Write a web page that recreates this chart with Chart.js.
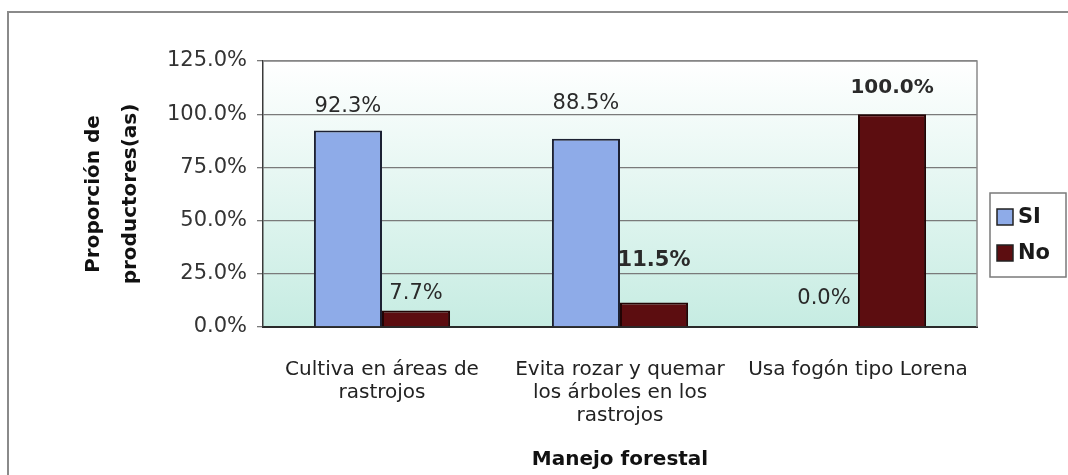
<!DOCTYPE html>
<html>
<head>
<meta charset="utf-8">
<script src="https://cdn.jsdelivr.net/npm/chart.js@4"></script>
<style>
    html, body { margin: 0; padding: 0; background: #fff; }
    .chart-box { width: 1068px; height: 475px; position: relative; }
</style>
</head>
<body>
<div class="chart-box">
    <canvas id="chart" width="1068" height="475"></canvas>
</div>
<script>
const categories = [
    ['Cultiva en áreas de', 'rastrojos'],
    ['Evita rozar y quemar', 'los árboles en los', 'rastrojos'],
    ['Usa fogón tipo Lorena']
];
const siValues = [92.3, 88.5, 0.0];
const noValues = [7.7, 11.5, 100.0];
const yTickMin = 0;
const yTickMax = 125;
const yTickStep = 25;

Chart.defaults.font.family = "'DejaVu Sans', sans-serif";
Chart.defaults.color = '#2a2a2a';

// gradient plot background + gray border like the excel plot area
const plotArea = {
    id: 'plotArea',
    beforeDraw(chart) {
        const { ctx, chartArea: a } = chart;
        ctx.save();
        const g = ctx.createLinearGradient(0, a.top, 0, a.bottom);
        g.addColorStop(0, '#ffffff');
        g.addColorStop(1, '#c6ece2');
        ctx.fillStyle = g;
        ctx.fillRect(a.left, a.top, a.right - a.left, a.bottom - a.top);
        ctx.restore();
    },
    beforeDatasetsDraw(chart) {
        const { ctx, chartArea: a } = chart;
        ctx.save();
        ctx.strokeStyle = '#8a8a8a';
        ctx.lineWidth = 1.5;
        ctx.beginPath();
        ctx.moveTo(a.left, a.top);
        ctx.lineTo(a.right, a.top);
        ctx.lineTo(a.right, a.bottom);
        ctx.stroke();
        ctx.restore();
    },
    afterDraw(chart) {
        // outer frame (top and left edges visible in the scan)
        const { ctx } = chart;
        ctx.save();
        ctx.strokeStyle = '#8a8a8a';
        ctx.lineWidth = 2;
        ctx.beginPath();
        ctx.moveTo(8, 480);
        ctx.lineTo(8, 12);
        ctx.lineTo(1068, 12);
        ctx.stroke();
        ctx.restore();
    }
};

const barLabels = {
    id: 'barLabels',
    afterDatasetsDraw(chart, args, opts) {
        const { ctx } = chart;
        ctx.save();
        ctx.textAlign = 'center';
        ctx.textBaseline = 'middle';
        ctx.fillStyle = '#2a2a2a';
        chart.data.datasets.forEach((ds, di) => {
            chart.getDatasetMeta(di).data.forEach((bar, i) => {
                const weight = opts.weights[di][i];
                ctx.font = weight + ' ' + opts.sizes[di][i] + "px 'DejaVu Sans'";
                ctx.fillText(ds.data[i].toFixed(1) + '%', bar.x, bar.y - opts.offsets[di][i]);
            });
        });
        ctx.restore();
    }
};

const boxLegend = {
    id: 'boxLegend',
    afterDraw(chart) {
        const { ctx } = chart;
        const left = 990, top = 193, w = 76, h = 84;
        ctx.save();
        ctx.fillStyle = '#ffffff';
        ctx.fillRect(left, top, w, h);
        ctx.strokeStyle = '#7a7a7a';
        ctx.lineWidth = 1.5;
        ctx.strokeRect(left, top, w, h);
        ctx.font = "bold 21px 'DejaVu Sans'";
        ctx.textBaseline = 'middle';
        ctx.textAlign = 'left';
        chart.data.datasets.forEach((ds, i) => {
            const cy = top + 24 + i * 36;
            ctx.fillStyle = ds.backgroundColor;
            ctx.fillRect(997, cy - 8, 16, 16);
            ctx.strokeStyle = '#222';
            ctx.lineWidth = 1.5;
            ctx.strokeRect(997, cy - 8, 16, 16);
            ctx.fillStyle = '#1a1a1a';
            ctx.fillText(ds.label, 1018, cy + 1);
        });
        ctx.restore();
    }
};

const data = {
    labels: categories,
    datasets: [{
        label: 'SI',
        data: siValues,
        backgroundColor: '#8eabe8',
        borderColor: '#1c2133',
        borderWidth: 2
    }, {
        label: 'No',
        data: noValues,
        backgroundColor: '#5c0d10',
        borderColor: '#220404',
        borderWidth: 2
    }]
};

const config = {
    type: 'bar',
    data,
    options: {
        responsive: false,
        animation: false,
        categoryPercentage: 0.572,
        barPercentage: 1,
        layout: {
            padding: { top: 61, right: 91, bottom: 0, left: 0 }
        },
        scales: {
            x: {
                afterFit(scale) { scale.height = 148; },
                grid: { display: false, drawTicks: false },
                border: { color: '#2a2a2a', width: 2 },
                ticks: {
                    maxRotation: 0,
                    autoSkip: false,
                    padding: 31,
                    color: '#222',
                    font: { size: 20, lineHeight: '23px' }
                },
                title: {
                    display: true,
                    text: 'Manejo forestal',
                    color: '#111',
                    font: { size: 20, weight: 'bold', lineHeight: 1.2 },
                    padding: { top: 0, bottom: 3 }
                }
            },
            y: {
                min: yTickMin,
                max: yTickMax,
                afterFit(scale) { scale.width = 263; },
                grid: {
                    color: '#7a7a7a',
                    lineWidth: 1.3,
                    tickLength: 6
                },
                border: { color: '#3a3a3a', width: 1.5 },
                ticks: {
                    stepSize: yTickStep,
                    padding: 10,
                    color: '#333',
                    font: { size: 21 },
                    callback: v => v.toFixed(1) + '%'
                },
                title: {
                    display: true,
                    text: ['Proporción de', 'productores(as)'],
                    color: '#111',
                    font: { size: 20, weight: 'bold', lineHeight: '37px' },
                    padding: { top: 75, bottom: 0 }
                }
            }
        },
        plugins: {
            legend: { display: false },
            tooltip: { enabled: false },
            barLabels: {
                offsets: [[24, 35, 28], [17, 42, 26]],
                weights: [['normal', 'normal', 'normal'], ['normal', 'bold', 'bold']],
                sizes: [[21, 21, 21], [21, 21, 20]]
            }
        }
    },
    plugins: [plotArea, barLabels, boxLegend]
};

const canvas = document.getElementById('chart');
const myChart = new Chart(canvas, config);
</script>
</body>
</html>
